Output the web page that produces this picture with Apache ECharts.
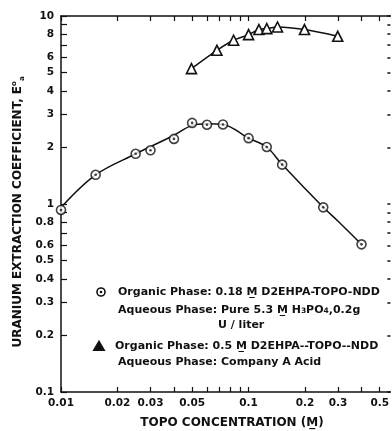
<!DOCTYPE html>
<html><head><meta charset="utf-8">
<script src="https://cdn.jsdelivr.net/npm/echarts@6/dist/echarts.min.js"></script>
<style>html,body{margin:0;padding:0;background:#fff}#c{width:392px;height:431px}</style>
</head><body><div id="c"></div>
<script>
// ---- data ----
const circleX = [0.010, 0.0153, 0.025, 0.030, 0.040, 0.050, 0.060, 0.073, 0.100, 0.125, 0.151, 0.250, 0.400];
const circleY = [0.93, 1.43, 1.85, 1.93, 2.22, 2.70, 2.64, 2.65, 2.24, 2.01, 1.62, 0.96, 0.61];
const fitX = [0.0102, 0.0153, 0.025, 0.030, 0.040, 0.050, 0.060, 0.073, 0.100, 0.125, 0.151, 0.250, 0.300, 0.400];
const fitY = [0.98, 1.43, 1.85, 2.02, 2.32, 2.62, 2.67, 2.65, 2.24, 2.01, 1.62, 0.96, 0.81, 0.61];
const triX = [0.0496, 0.0678, 0.0832, 0.100, 0.1135, 0.125, 0.1426, 0.1986, 0.2987];
const triY = [5.25, 6.57, 7.43, 7.96, 8.47, 8.57, 8.74, 8.47, 7.80];
const xTickVals = [0.01,0.02,0.03,0.04,0.05,0.06,0.07,0.08,0.09,0.1,0.2,0.3,0.4,0.5];
const xLabelVals = [0.01,0.02,0.03,0.05,0.1,0.2,0.3,0.5];
const yTickVals = [0.1,0.2,0.3,0.4,0.5,0.6,0.7,0.8,0.9,1,2,3,4,5,6,7,8,9,10];
const yLabelVals = [0.1,0.2,0.3,0.4,0.5,0.6,0.8,1,2,3,4,5,6,8,10];

const FONT = 'DejaVu Sans';
const INK = '#111';
const zip = (a, b) => a.map((v, i) => [v, b[i]]);
const fmt = v => String(+(+v).toPrecision(3));

const baseAxis = {
  type: 'log', logBase: 10,
  axisLine: { show: true, lineStyle: { color: INK, width: 1.5 } },
  splitLine: { show: false }, minorTick: { show: false }, minorSplitLine: { show: false }
};

const chart = echarts.init(document.getElementById('c'), null, { renderer: 'canvas' });
chart.setOption({
  animation: false,
  backgroundColor: '#fff',
  grid: { left: 61, right: 1, top: 16, bottom: 39, containLabel: false },
  xAxis: [
    Object.assign({}, baseAxis, {
      position: 'bottom', min: 0.01, max: 0.57,
      axisTick: { show: true, inside: true, length: 5, customValues: xTickVals, lineStyle: { color: INK, width: 1.2 } },
      axisLabel: { show: true, customValues: xLabelVals, formatter: fmt, margin: 6,
        fontFamily: FONT, fontWeight: 'bold', fontSize: 10.5, color: INK }
    }),
    Object.assign({}, baseAxis, {
      position: 'top', min: 0.01, max: 0.57,
      axisTick: { show: true, inside: true, length: 5, customValues: xTickVals, lineStyle: { color: INK, width: 1.2 } },
      axisLabel: { show: false }
    })
  ],
  yAxis: [
    Object.assign({}, baseAxis, {
      position: 'left', min: 0.1, max: 10,
      axisTick: { show: true, inside: true, length: 6, customValues: yTickVals, lineStyle: { color: INK, width: 1.2 } },
      axisLabel: { show: true, customValues: yLabelVals, formatter: fmt, margin: 7,
        fontFamily: FONT, fontWeight: 'bold', fontSize: 10.5, color: INK }
    }),
    Object.assign({}, baseAxis, {
      position: 'right', min: 0.1, max: 10,
      axisLine: { show: false },
      axisTick: { show: true, inside: true, length: 3, customValues: yTickVals, lineStyle: { color: INK, width: 1.5 } },
      axisLabel: { show: false }
    })
  ],
  series: [
    { type: 'line', data: zip(fitX, fitY), smooth: 0.35, showSymbol: false, symbol: 'none',
      lineStyle: { color: INK, width: 1.5 }, z: 2 },
    { type: 'scatter', data: zip(circleX, circleY), symbol: 'circle', symbolSize: 9,
      itemStyle: { color: '#fff', borderColor: INK, borderWidth: 1.6 }, z: 3 },
    { type: 'scatter', data: zip(circleX, circleY), symbol: 'circle', symbolSize: 2.6,
      itemStyle: { color: INK }, z: 4 },
    { type: 'line', data: zip(triX, triY), smooth: 0.3, symbol: 'triangle', symbolSize: 10, showSymbol: true,
      lineStyle: { color: INK, width: 1.5 },
      itemStyle: { color: '#fff', borderColor: INK, borderWidth: 1.6 }, z: 3 }
  ],
  graphic: [
    // axis titles
    { type: 'text', x: 18, y: 212, rotation: Math.PI / 2,
      style: { text: 'URANIUM EXTRACTION COEFFICIENT, E{sup|o}{sub|a}', align: 'center', verticalAlign: 'middle',
        font: 'bold 12px "DejaVu Sans"', fill: INK,
        rich: { sup: { fontSize: 7, fontWeight: 'bold', fontFamily: FONT, fill: INK, verticalAlign: 'top', lineHeight: 15 },
                sub: { fontSize: 7, fontWeight: 'bold', fontFamily: FONT, fill: INK, verticalAlign: 'bottom', lineHeight: 15 } } } },
    { type: 'text', x: 232, y: 423,
      style: { text: 'TOPO CONCENTRATION (M\u0332)', align: 'center', verticalAlign: 'middle',
        font: 'bold 12px "DejaVu Sans"', fill: INK } },
    // legend glyphs
    { type: 'circle', shape: { cx: 101, cy: 292, r: 4 }, style: { fill: '#fff', stroke: INK, lineWidth: 1.6 } },
    { type: 'circle', shape: { cx: 101, cy: 292, r: 1.3 }, style: { fill: INK } },
    { type: 'polygon', shape: { points: [[99, 341], [104.5, 350.5], [93.5, 350.5]] }, style: { fill: INK, stroke: INK, lineWidth: 1.2 } },
    // legend texts
    { type: 'text', x: 118, y: 292,
      style: { text: 'Organic Phase: 0.18 M\u0332 D2EHPA-TOPO-NDD', verticalAlign: 'middle',
        font: 'bold 11px "DejaVu Sans"', fill: INK } },
    { type: 'text', x: 118, y: 310,
      style: { text: 'Aqueous Phase: Pure 5.3 M\u0332 H{s|3}PO{s|4},0.2g', verticalAlign: 'middle',
        font: 'bold 11px "DejaVu Sans"', fill: INK,
        rich: { s: { fontSize: 7.5, fontWeight: 'bold', fontFamily: FONT, fill: INK, verticalAlign: 'bottom', lineHeight: 8 } } } },
    { type: 'text', x: 218, y: 325,
      style: { text: 'U / liter', verticalAlign: 'middle', font: 'bold 11px "DejaVu Sans"', fill: INK } },
    { type: 'text', x: 115, y: 346,
      style: { text: 'Organic Phase: 0.5 M\u0332 D2EHPA--TOPO--NDD', verticalAlign: 'middle',
        font: 'bold 11px "DejaVu Sans"', fill: INK } },
    { type: 'text', x: 118, y: 362,
      style: { text: 'Aqueous Phase: Company A Acid', verticalAlign: 'middle',
        font: 'bold 11px "DejaVu Sans"', fill: INK } }
  ]
});
</script></body></html>
